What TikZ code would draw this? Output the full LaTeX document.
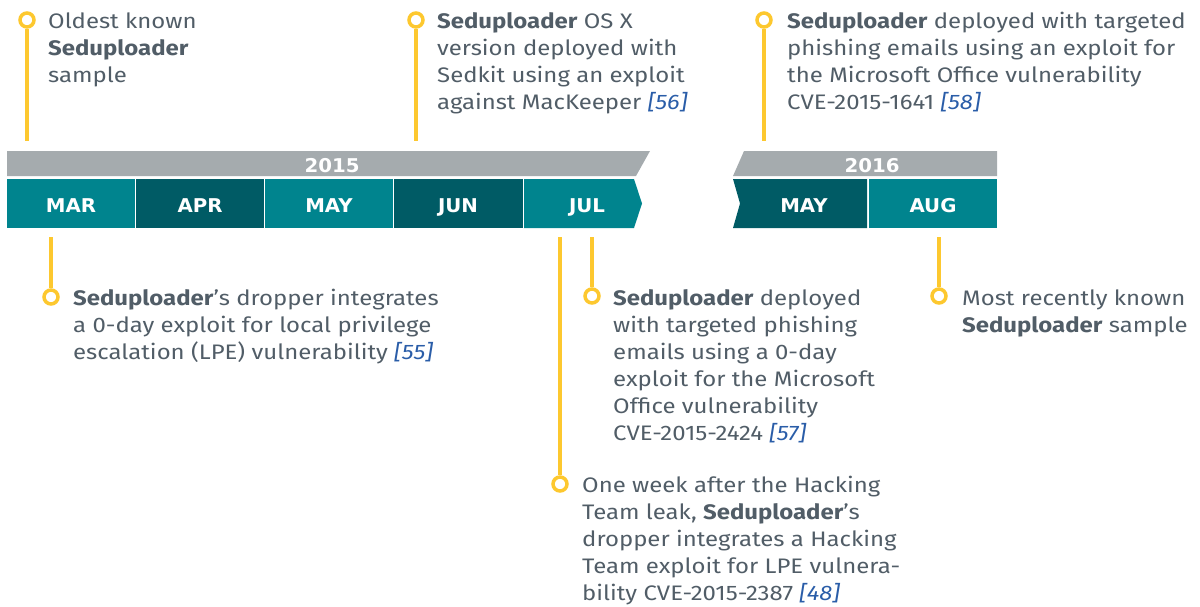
\documentclass[tikz,border=0pt]{standalone}
\usepackage{fontspec}
\setmainfont[FakeStretch=1.14]{Fira Sans}
\newfontfamily\monthfont[FakeStretch=1.04]{DejaVu Sans}
\definecolor{tealA}{HTML}{00848E}
\definecolor{tealB}{HTML}{005B65}
\definecolor{yearg}{HTML}{A5ABAE}
\definecolor{evy}{HTML}{FDC82F}
\definecolor{txtg}{HTML}{515D67}
\definecolor{refblue}{HTML}{2A5DA8}
\newcommand\sedu{\textbf{Seduploader}}
\newcommand\rf[1]{{\color{refblue}\itshape[#1]}}
\newcommand\evlines[1]{\vtop{\fontsize{21}{27}\selectfont #1}}
\tikzset{
  evtext/.style={anchor=base west, inner sep=0pt, text=txtg, font=\fontsize{21}{27}\selectfont},
  dot/.style={circle, draw=evy, line width=3.5pt, fill=white, minimum size=14pt, inner sep=0pt},
  stem/.style={draw=evy, line width=3.5pt},
  monlab/.style={anchor=base, text=white, font=\monthfont\bfseries\fontsize{19}{20}\selectfont, inner sep=0pt},
  cellA/.style={fill=tealA},
  cellB/.style={fill=tealB},
}
\begin{document}
\begin{tikzpicture}[x=1pt,y=-1pt]
\useasboundingbox (0,0) rectangle (1200,606);
% year bars
\fill[yearg] (7,151) -- (650,151) -- (636,176) -- (7,176) -- cycle;
\fill[yearg] (744,151) -- (997,151) -- (997,176) -- (733,176) -- cycle;
\node[monlab] (y15) at (332,172) {2015};
\node[monlab] (y16) at (872,172) {2016};
% month cells 2015
\fill[cellA] (7,179) rectangle (135,228);
\fill[cellB] (136,179) rectangle (264,228);
\fill[cellA] (265,179) rectangle (393,228);
\fill[cellB] (394,179) rectangle (523,228);
\fill[cellA] (524,179) -- (634,179) -- (642,203.5) -- (634,228) -- (524,228) -- cycle;
% month cells 2016
\fill[cellB] (733,179) -- (867,179) -- (867,228) -- (733,228) -- (740,203.5) -- cycle;
\fill[cellA] (869,179) rectangle (997,228);
\node[monlab] (mar) at (71,212) {MAR};
\node[monlab] (apr) at (200,212) {APR};
\node[monlab] (may) at (329,212) {MAY};
\node[monlab] (jun) at (458,212) {JUN};
\node[monlab] (jul) at (587,212) {JUL};
\node[monlab] (may16) at (804,212) {MAY};
\node[monlab] (aug) at (933,212) {AUG};
% top events
\node[dot] (d1) at (27,20) {};
\node[dot] (d2) at (416,20) {};
\node[dot] (d3) at (764,20) {};
\coordinate (t1) at (27,141);
\coordinate (t2) at (416,141);
\coordinate (t3) at (764,141);
\draw[stem] (d1) -- (t1);
\draw[stem] (d2) -- (t2);
\draw[stem] (d3) -- (t3);
% bottom events
\node[dot] (d4) at (51,297) {};
\node[dot] (d5) at (592,296) {};
\node[dot] (d6) at (560,484) {};
\node[dot] (d7) at (939,296) {};
\coordinate (b4) at (51,237);
\coordinate (b5) at (592,237);
\coordinate (b6) at (560,237);
\coordinate (b7) at (939,237);
\draw[stem] (b4) -- (d4);
\draw[stem] (b5) -- (d5);
\draw[stem] (b6) -- (d6);
\draw[stem] (b7) -- (d7);
% texts
\node[evtext] (e1) at (48,28) {\evlines{\hbox{Oldest known}\hbox{\sedu}\hbox{sample}}};
\node[evtext] (e2) at (437,28) {\evlines{\hbox{\sedu{} OS X}\hbox{version deployed with}\hbox{Sedkit using an exploit}\hbox{against MacKeeper \rf{56}}}};
\node[evtext] (e3) at (787,28) {\evlines{\hbox{\sedu{} deployed with targeted}\hbox{phishing emails using an exploit for}\hbox{the Microsoft Office vulnerability}\hbox{CVE-2015-1641 \rf{58}}}};
\node[evtext] (e4) at (73,305) {\evlines{\hbox{\sedu’s dropper integrates}\hbox{a 0-day exploit for local privilege}\hbox{escalation (LPE) vulnerability \rf{55}}}};
\node[evtext] (e5) at (613,305) {\evlines{\hbox{\sedu{} deployed}\hbox{with targeted phishing}\hbox{emails using a 0-day}\hbox{exploit for the Microsoft}\hbox{Office vulnerability}\hbox{CVE-2015-2424 \rf{57}}}};
\node[evtext] (e6) at (582,492) {\evlines{\hbox{One week after the Hacking}\hbox{Team leak, \sedu’s}\hbox{dropper integrates a Hacking}\hbox{Team exploit for LPE vulnera-}\hbox{bility CVE-2015-2387 \rf{48}}}};
\node[evtext] (e7) at (962,305) {\evlines{\hbox{Most recently known}\hbox{\sedu{} sample}}};
\end{tikzpicture}
\end{document}
